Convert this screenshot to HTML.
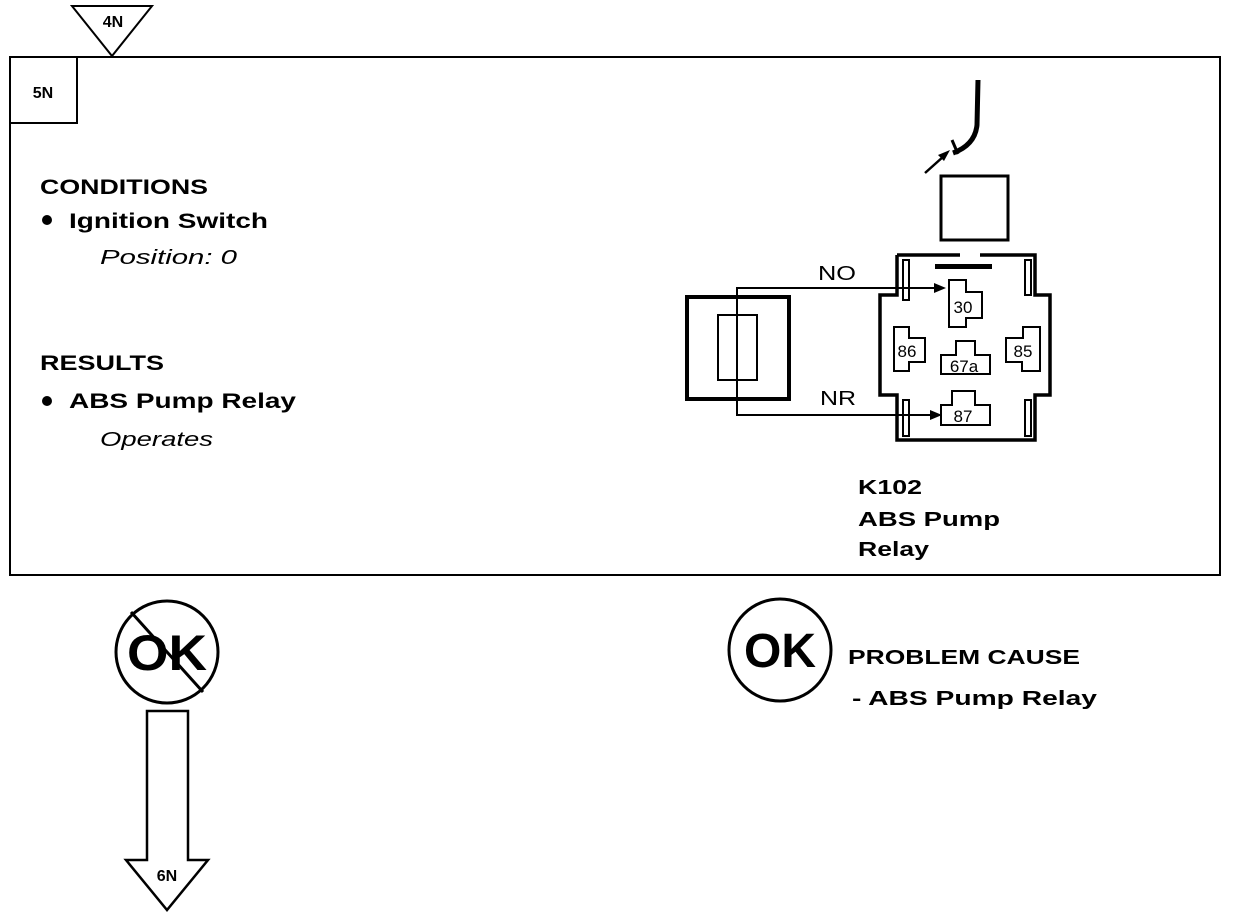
<!DOCTYPE html>
<html><head><meta charset="utf-8"><style>
html,body{margin:0;padding:0;background:#fff}
svg{display:block}
text{font-family:"Liberation Sans",Arial,sans-serif;fill:#000}
.b{font-weight:bold}
</style></head><body>
<svg width="1248" height="918" viewBox="0 0 1248 918" xmlns="http://www.w3.org/2000/svg">
<rect x="10" y="57" width="1210" height="518" fill="none" stroke="#000" stroke-width="2"/>
<rect x="10" y="57" width="67" height="66" fill="none" stroke="#000" stroke-width="2"/>
<text x="43" y="98" font-size="16" class="b" text-anchor="middle">5N</text>
<polygon points="72,6 152,6 112,56" fill="#fff" stroke="#000" stroke-width="2"/>
<text x="113" y="27" font-size="16" class="b" text-anchor="middle">4N</text>

<text x="40" y="194" font-size="21" class="b" textLength="168" lengthAdjust="spacingAndGlyphs">CONDITIONS</text>
<circle cx="47" cy="220" r="5" fill="#000"/>
<text x="69" y="228" font-size="21" class="b" textLength="199" lengthAdjust="spacingAndGlyphs">Ignition Switch</text>
<text x="100" y="264" font-size="20" font-style="italic" textLength="137" lengthAdjust="spacingAndGlyphs">Position: 0</text>
<text x="40" y="370" font-size="21" class="b" textLength="124" lengthAdjust="spacingAndGlyphs">RESULTS</text>
<circle cx="47" cy="401" r="5" fill="#000"/>
<text x="69" y="408" font-size="21" class="b" textLength="227" lengthAdjust="spacingAndGlyphs">ABS Pump Relay</text>
<text x="100" y="446" font-size="20" font-style="italic" textLength="113" lengthAdjust="spacingAndGlyphs">Operates</text>

<path d="M978,80 L977,125 Q975,145 953,153" fill="none" stroke="#000" stroke-width="5"/>
<path d="M952,140 L958,154" stroke="#000" stroke-width="3"/>
<line x1="925" y1="173" x2="944" y2="156" stroke="#000" stroke-width="2.5"/>
<polygon points="950,150 938,155 944,161" fill="#000"/>
<rect x="941" y="176" width="67" height="64" fill="none" stroke="#000" stroke-width="3"/>

<rect x="687" y="297" width="102" height="102" fill="none" stroke="#000" stroke-width="4"/>
<rect x="718" y="315" width="39" height="65" fill="none" stroke="#000" stroke-width="2"/>

<path d="M897,255 L897,295 L880,295 L880,395 L897,395 L897,440 L1035,440 L1035,395 L1050,395 L1050,295 L1035,295 L1035,255 L980,255 M960,255 L897,255" fill="none" stroke="#000" stroke-width="3.5"/>
<rect x="903" y="260" width="6" height="40" fill="none" stroke="#000" stroke-width="2"/>
<rect x="1025" y="260" width="6" height="35" fill="none" stroke="#000" stroke-width="2"/>
<rect x="903" y="400" width="6" height="36" fill="none" stroke="#000" stroke-width="2"/>
<rect x="1025" y="400" width="6" height="36" fill="none" stroke="#000" stroke-width="2"/>
<rect x="935" y="264" width="57" height="5" fill="#000"/>

<polyline points="935,288 737,288 737,415 935,415" fill="none" stroke="#000" stroke-width="2"/>
<polygon points="946,288 934,283 934,293" fill="#000"/>
<polygon points="942,415 930,410 930,420" fill="#000"/>
<text x="818" y="280" font-size="20" textLength="38" lengthAdjust="spacingAndGlyphs">NO</text>
<text x="820" y="405" font-size="20" textLength="36" lengthAdjust="spacingAndGlyphs">NR</text>

<path d="M949,280 L966,280 L966,292 L982,292 L982,318 L966,318 L966,327 L949,327 Z" fill="#fff" stroke="#000" stroke-width="2"/>
<text x="963" y="313" font-size="17" text-anchor="middle">30</text>
<path d="M894,327 L909,327 L909,338 L925,338 L925,362 L909,362 L909,371 L894,371 Z" fill="#fff" stroke="#000" stroke-width="2"/>
<text x="907" y="357" font-size="17" text-anchor="middle">86</text>
<path d="M956,341 L975,341 L975,355 L990,355 L990,374 L941,374 L941,355 L956,355 Z" fill="#fff" stroke="#000" stroke-width="2"/>
<text x="964" y="372" font-size="17" text-anchor="middle">67a</text>
<path d="M1023,327 L1040,327 L1040,371 L1022,371 L1022,362 L1006,362 L1006,338 L1023,338 Z" fill="#fff" stroke="#000" stroke-width="2"/>
<text x="1023" y="357" font-size="17" text-anchor="middle">85</text>
<path d="M952,391 L975,391 L975,405 L990,405 L990,425 L941,425 L941,405 L952,405 Z" fill="#fff" stroke="#000" stroke-width="2"/>
<text x="963" y="422" font-size="17" text-anchor="middle">87</text>

<text x="858" y="494" font-size="20" class="b" textLength="64" lengthAdjust="spacingAndGlyphs">K102</text>
<text x="858" y="526" font-size="20" class="b" textLength="142" lengthAdjust="spacingAndGlyphs">ABS Pump</text>
<text x="858" y="556" font-size="20" class="b" textLength="71" lengthAdjust="spacingAndGlyphs">Relay</text>

<circle cx="167" cy="652" r="51" fill="none" stroke="#000" stroke-width="3"/>
<text x="167" y="670" font-size="50" class="b" text-anchor="middle" textLength="80" lengthAdjust="spacingAndGlyphs">OK</text>
<line x1="131" y1="612" x2="203" y2="692" stroke="#000" stroke-width="3"/>
<polygon points="147,711 188,711 188,860 208,860 167,910 126,860 147,860" fill="#fff" stroke="#000" stroke-width="2.5"/>
<text x="167" y="881" font-size="16" class="b" text-anchor="middle">6N</text>

<circle cx="780" cy="650" r="51" fill="none" stroke="#000" stroke-width="3"/>
<text x="780" y="667" font-size="48" class="b" text-anchor="middle" textLength="72" lengthAdjust="spacingAndGlyphs">OK</text>
<text x="848" y="664" font-size="20" class="b" textLength="232" lengthAdjust="spacingAndGlyphs">PROBLEM CAUSE</text>
<text x="852" y="705" font-size="20" class="b" textLength="245" lengthAdjust="spacingAndGlyphs">-  ABS Pump Relay</text>
</svg>
</body></html>
